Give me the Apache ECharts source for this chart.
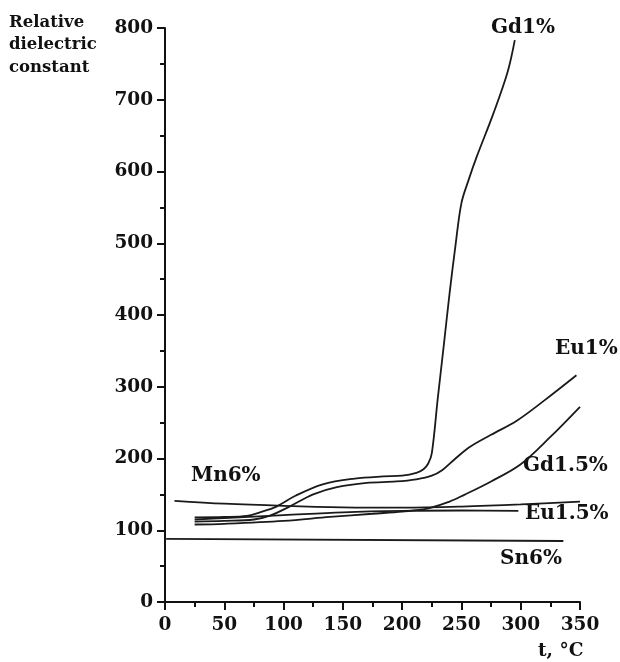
<!DOCTYPE html>
<html><head><meta charset="utf-8">
<script src="https://cdn.jsdelivr.net/npm/echarts@6/dist/echarts.min.js"></script>
<style>html,body{margin:0;padding:0;background:#fff}#c{width:620px;height:662px}</style>
</head><body><div id="c"></div>
<script>
const xTicks = [0, 50, 100, 150, 200, 250, 300, 350];
const yTicks = [0, 100, 200, 300, 400, 500, 600, 700, 800];
const gd1 = [[25,118],[50,118.5],[69,120],[80,125],[94,133],[110,148],[133,164],[160,172],[184,175],[200,176],[212,180],[218,185],[222,193],[225,207],[230,283],[235,356],[240,430],[245,497],[250,556],[256,588],[263,621],[277,681],[289,739],[295,783]];
const eu1 = [[25,112],[50,113],[75,115],[88,120],[105,133],[125,150],[145,160],[170,166],[195,168],[212,171],[225,176],[234,184],[245,200],[257,216],[275,233],[297,253],[320,281],[347,316]];
const gd15 = [[25,108],[50,109],[100,113],[139,118.5],[175,123],[200,126],[221,130],[240,140],[252,149],[275,168],[300,192],[325,230],[350,272]];
const eu15 = [[25,115],[50,117],[100,121],[150,125],[200,127],[250,127.5],[298,127]];
const mn6 = [[8,141],[50,137],[100,134],[150,132],[200,131.5],[250,133],[300,136],[350,140]];
const sn6 = [[1,88],[336,85]];
const seriesNames = ['Gd1%','Eu1%','Gd1.5%','Eu1.5%','Mn6%','Sn6%'];

const font = 'DejaVu Serif';
const lineSeries = (name, data) => ({
  name, type: 'line', data, showSymbol: false, smooth: 0.35,
  lineStyle: { color: '#1a1a1a', width: 1.8 }, silent: true, animation: false
});
const txt = (text, x, y, size) => ({ type: 'text', left: x, top: y, silent: true,
  style: { text, font: 'bold ' + (size || 19) + 'px "' + font + '"', fill: '#111' } });

const chart = echarts.init(document.getElementById('c'));
chart.setOption({
  animation: false,
  grid: { left: 165, right: 40, top: 28, bottom: 60, containLabel: false },
  xAxis: {
    type: 'value', min: 0, max: 350, interval: 50,
    axisLine: { onZero: false, lineStyle: { color: '#111', width: 2 } },
    axisTick: { show: true, length: 8, lineStyle: { color: '#111', width: 2 } },
    minorTick: { show: true, splitNumber: 2, length: 5, lineStyle: { color: '#111', width: 2 } },
    splitLine: { show: false },
    axisLabel: { color: '#111', fontFamily: font, fontWeight: 'bold', fontSize: 18.5, margin: 14,
      formatter: v => xTicks.includes(v) ? String(v) : '' }
  },
  yAxis: {
    type: 'value', min: 0, max: 800, interval: 100,
    axisLine: { show: true, onZero: false, lineStyle: { color: '#111', width: 2 } },
    axisTick: { show: true, length: 8, lineStyle: { color: '#111', width: 2 } },
    minorTick: { show: true, splitNumber: 2, length: 5, lineStyle: { color: '#111', width: 2 } },
    splitLine: { show: false },
    axisLabel: { color: '#111', fontFamily: font, fontWeight: 'bold', fontSize: 18.5, margin: 12,
      formatter: v => yTicks.includes(v) ? String(v) : '' }
  },
  graphic: [
    { type: 'text', left: 9, top: 11, silent: true,
      style: { text: 'Relative\ndielectric\nconstant', font: 'bold 16.5px "' + font + '"', fill: '#111', lineHeight: 22.5 } },
    txt(seriesNames[0], 491, 18, 20),
    txt(seriesNames[1], 555, 339, 20),
    txt(seriesNames[2], 523, 456, 20),
    txt(seriesNames[3], 525, 504, 20),
    txt(seriesNames[4], 191, 466, 20),
    txt(seriesNames[5], 500, 549, 20),
    txt('t, \u00b0C', 538, 642, 18.5)
  ],
  series: [
    lineSeries(seriesNames[0], gd1),
    lineSeries(seriesNames[1], eu1),
    lineSeries(seriesNames[2], gd15),
    lineSeries(seriesNames[3], eu15),
    lineSeries(seriesNames[4], mn6),
    lineSeries(seriesNames[5], sn6)
  ]
});
</script></body></html>
